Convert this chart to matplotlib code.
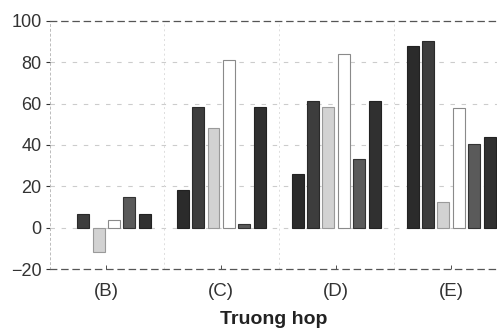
import numpy as np
import matplotlib.pyplot as plt

plt.rcParams['font.family'] = ['Liberation Sans', 'DejaVu Sans']

# Data
groups = ['(B)', '(C)', '(D)', '(E)']
s1 = [np.nan, 18, 26, 88]
s2 = [6.6, 58.5, 61.5, 90.5]
s3 = [-12, 48, 58.5, 12.5]
s4 = [3.7, 81, 84, 58]
s5 = [14.8, 1.6, 33, 40.5]
s6 = [6.6, 58.5, 61.5, 44]
series = [s1, s2, s3, s4, s5, s6]
colors = ['#2b2b2b', '#3d3d3d', '#d2d2d2', '#ffffff', '#5a5a5a', '#303030']
edges = ['#222222', '#2a2a2a', '#9a9a9a', '#8a8a8a', '#333333', '#222222']

x = np.arange(len(groups))
step = 0.134
width = 0.104

fig = plt.figure(figsize=(4.97, 3.31), dpi=100)
ax = fig.add_axes([0.1006, 0.1873, 0.8994, 0.7493])

for i, vals in enumerate(series):
    ax.bar(x + (i - 2.5) * step, vals, width=width, color=colors[i],
           edgecolor=edges[i], linewidth=0.8, zorder=3)

ax.set_xlim(-0.49, 3.4)
ax.set_ylim(-20, 100)
ax.set_yticks([-20, 0, 20, 40, 60, 80, 100])
ax.set_xticks(x)
ax.set_xticklabels(groups)

# faint dashed horizontal grid, dotted vertical separators
for yv in [0, 20, 40, 60, 80]:
    ax.axhline(yv, color='#cccccc', lw=0.8, ls=(0, (4, 6)), zorder=1)
for xv in [0.5, 1.5, 2.5]:
    ax.axvline(xv, color='#dddddd', lw=0.7, ls=(0, (2, 3)), zorder=1)

for side in ['top', 'bottom']:
    ax.spines[side].set_linestyle((0, (5, 4)))
    ax.spines[side].set_color('#555555')
    ax.spines[side].set_linewidth(0.9)
ax.spines['left'].set_linestyle((0, (2, 3)))
ax.spines['left'].set_color('#bbbbbb')
ax.spines['left'].set_linewidth(0.7)
ax.spines['right'].set_visible(False)

ax.tick_params(axis='y', labelsize=13, colors='#333333', length=3, width=0.8, pad=3)
ax.tick_params(axis='x', labelsize=13.5, colors='#333333', direction='in', length=3,
               width=0.6, pad=10)
ax.set_xlabel('Truong hop', fontsize=14, fontweight='bold', color='#222222', labelpad=8)

plt.savefig('out.png', dpi=100)
